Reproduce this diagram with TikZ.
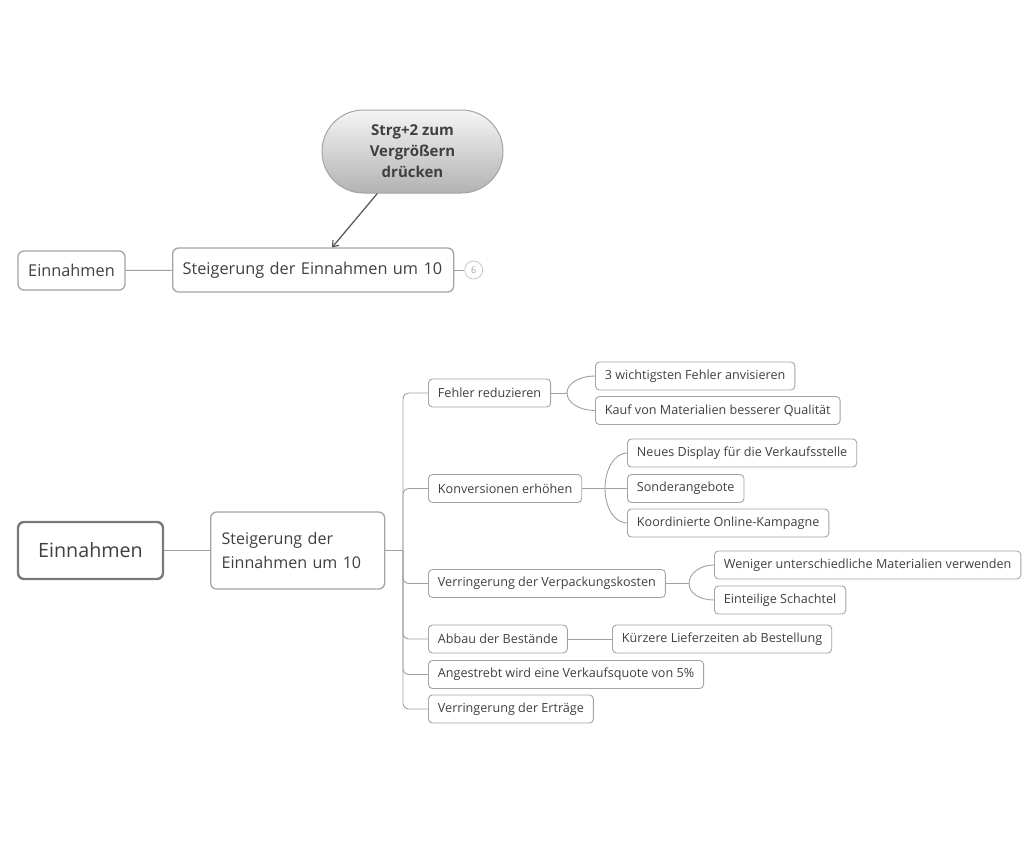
\documentclass[tikz,border=0pt]{standalone}
\usepackage{fontspec}
\setmainfont{Open Sans}
\usetikzlibrary{positioning,shapes.misc,arrows.meta}
\definecolor{txtgray}{HTML}{404040}
\definecolor{boxgray}{HTML}{A4A4A4}
\definecolor{linegray}{HTML}{A0A0A0}
\definecolor{darkgray}{HTML}{7A7A7A}
\begin{document}
\begin{tikzpicture}[x=1pt,y=-1pt,>={Straight Barb[length=5pt,width=8pt]},
		topic/.style={draw=boxgray,line width=0.9pt,rounded corners=4pt,fill=white,text=txtgray,font=\fontsize{12.6}{15}\selectfont,inner xsep=9.5pt,minimum height=28pt,anchor=west},
		mainbox/.style={draw=boxgray,line width=1.3pt,rounded corners=6pt,fill=white,text=txtgray,font=\fontsize{16.3}{20}\selectfont},
		conn/.style={draw=linegray,line width=0.9pt}]
		\useasboundingbox (0,0) rectangle (1027,849);
		
		\node[rounded rectangle,draw=boxgray,line width=1pt,top color=gray!8,bottom color=gray!60,text=txtgray,font=\fontsize{15}{21}\selectfont\bfseries,align=center,minimum width=185pt,minimum height=83pt,inner sep=2pt] (zoom) at (412.5,151.5) {Strg+2 zum\\Vergrößern\\drücken};
		\node[mainbox,minimum width=107pt,minimum height=39pt] (ein1) at (71.5,270.5) {Einnahmen};
		\node[mainbox,anchor=west,inner xsep=10pt,text width=261pt,align=left,minimum height=44pt] (stg1) at (172,270) {Steigerung der Einnahmen um 10};
		\node[circle,draw=gray!45,line width=0.8pt,text=gray!75,font=\fontsize{9}{10}\selectfont,minimum size=18pt,inner sep=0pt,right=10pt of stg1] (cnt) {6};
		\draw[conn] (ein1) -- (stg1);
		\draw[conn] (stg1) -- (cnt);
		\draw[line width=1.2pt,color=txtgray!90,->] (zoom) -- (stg1);
		
		\node[draw=darkgray,line width=2.4pt,rounded corners=6pt,fill=white,text=txtgray,font=\fontsize{19.7}{24}\selectfont,minimum width=145pt,minimum height=57pt] (ein2) at (90.5,550.5) {Einnahmen};
		\node[mainbox,anchor=west,inner xsep=11pt,text width=152pt,align=left,minimum height=77pt,font=\fontsize{16.1}{24}\selectfont] (stg2) at (210,550.5) {Steigerung der\\Einnahmen um 10};
		\draw[conn] (ein2) -- (stg2);
		
		\node[topic] (fr) at (428,393) {Fehler reduzieren};
		\node[topic] (ko) at (428,488.5) {Konversionen erhöhen};
		\node[topic] (vp) at (428,583.5) {Verringerung der Verpackungskosten};
		\node[topic] (ab) at (428,639) {Abbau der Bestände};
		\node[topic] (an) at (428,674.5) {Angestrebt wird eine Verkaufsquote von 5\%};
		\node[topic] (er) at (428,709) {Verringerung der Erträge};
		
		\node[topic] (fr1) at (595,376) {3 wichtigsten Fehler anvisieren};
		\node[topic] (fr2) at (595,410.5) {Kauf von Materialien besserer Qualität};
		\node[topic] (ko1) at (627,453) {Neues Display für die Verkaufsstelle};
		\node[topic] (ko2) at (627,488.5) {Sonderangebote};
		\node[topic] (ko3) at (627,523) {Koordinierte Online-Kampagne};
		\node[topic] (vp1) at (714,565) {Weniger unterschiedliche Materialien verwenden};
		\node[topic] (vp2) at (714,600) {Einteilige Schachtel};
		\node[topic] (ab1) at (612,639) {Kürzere Lieferzeiten ab Bestellung};
		
		\coordinate (trunk) at (403,550.5);
		\draw[conn] (stg2) -- (trunk);
		\foreach \t in {fr,ko,vp,ab,an,er}
			\draw[conn,rounded corners=6pt] (trunk) |- (\t.west);
		
		\coordinate (frk) at (567,393);
		\draw[conn] (fr) -- (frk);
		\draw[conn] (frk) .. controls +(0,-10) and +(-15,0) .. (fr1.west);
		\draw[conn] (frk) .. controls +(0,10) and +(-15,0) .. (fr2.west);
		
		\coordinate (kok) at (605,488.5);
		\draw[conn] (ko) -- (ko2);
		\draw[conn] (kok) .. controls +(0,-20) and +(-12,0) .. (ko1.west);
		\draw[conn] (kok) .. controls +(0,20) and +(-12,0) .. (ko3.west);
		
		\coordinate (vpk) at (689,583.5);
		\draw[conn] (vp) -- (vpk);
		\draw[conn] (vpk) .. controls +(0,-10) and +(-14,0) .. (vp1.west);
		\draw[conn] (vpk) .. controls +(0,10) and +(-14,0) .. (vp2.west);
		
		\draw[conn] (ab) -- (ab1);
	\end{tikzpicture}
\end{document}
